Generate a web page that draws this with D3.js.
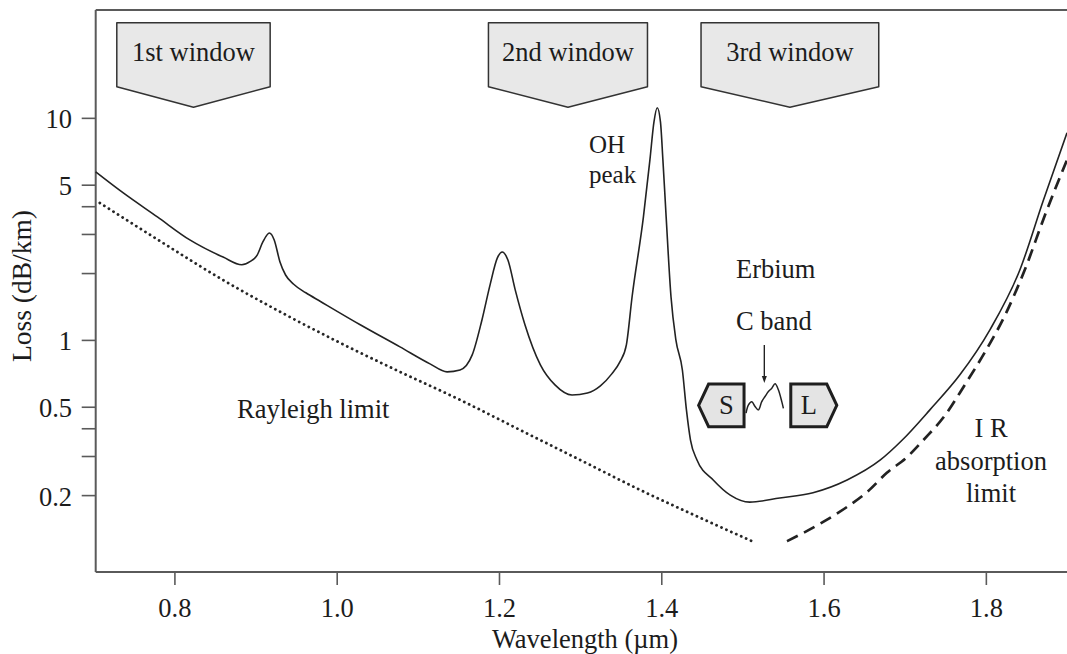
<!DOCTYPE html>
<html>
<head>
<meta charset="utf-8">
<script src="https://cdn.jsdelivr.net/npm/d3@7"></script>
<style>
  body { margin: 0; background: #fff; }
  svg { display: block; }
  text { font-family: "Liberation Serif", "Times New Roman", serif; fill: #1c1c1c; }
</style>
</head>
<body>
<svg id="chart" width="1067" height="654"></svg>
<script>
// Total fibre loss (dB/km) against wavelength (µm)
const lossWavelength = [0.703, 0.737, 0.779, 0.819, 0.860, 0.883, 0.893, 0.902, 0.909, 0.917, 0.923, 0.930, 0.937,
  0.947, 0.962, 0.980, 1.029, 1.078, 1.115, 1.136, 1.152, 1.167, 1.179, 1.189, 1.198, 1.204, 1.211, 1.220, 1.232,
  1.251, 1.269, 1.290, 1.309, 1.325, 1.339, 1.349, 1.357, 1.364, 1.378, 1.386, 1.391, 1.395, 1.399, 1.402,
  1.406, 1.412, 1.418, 1.426, 1.431, 1.436, 1.444, 1.464, 1.485, 1.509, 1.546, 1.587, 1.629, 1.670, 1.697,
  1.731, 1.768, 1.805, 1.842, 1.871, 1.900];
const lossValue = [5.71, 4.59, 3.58, 2.82, 2.36, 2.18, 2.25, 2.41, 2.76, 3.03, 2.82, 2.25, 1.96,
  1.78, 1.63, 1.49, 1.17, 0.930, 0.780, 0.718, 0.732, 0.856, 1.23, 1.77, 2.34, 2.49, 2.29, 1.68, 1.17,
  0.772, 0.627, 0.565, 0.577, 0.621, 0.703, 0.796, 0.950, 1.56, 3.58, 6.47, 9.59, 11.1, 9.59, 6.47,
  3.58, 1.56, 1.00, 0.732, 0.484, 0.354, 0.288, 0.234, 0.200, 0.186, 0.194, 0.205, 0.234, 0.288, 0.354,
  0.484, 0.696, 1.11, 2.07, 4.27, 8.56];

// Rayleigh scattering limit
const rayleighWavelength = [0.708, 0.782, 0.860, 0.930, 1.002, 1.078, 1.152, 1.226, 1.300, 1.374, 1.448, 1.512];
const rayleighValue = [4.14, 2.79, 1.86, 1.34, 0.979, 0.718, 0.537, 0.393, 0.288, 0.211, 0.158, 0.124];

// Infrared absorption limit
const irWavelength = [1.555, 1.599, 1.629, 1.654, 1.678, 1.703, 1.723, 1.750, 1.774, 1.799, 1.824, 1.848, 1.873, 1.900];
const irValue = [0.124, 0.151, 0.177, 0.207, 0.252, 0.297, 0.354, 0.459, 0.627, 0.883, 1.30, 2.07, 3.66, 6.47];

// Erbium C-band gain sketch
const erbiumWavelength = [1.5045, 1.5073, 1.5115, 1.5156, 1.5197, 1.5238, 1.5279, 1.5320, 1.5362, 1.5402, 1.5444, 1.5485, 1.5505];
const erbiumValue = [0.468, 0.509, 0.527, 0.501, 0.484, 0.527, 0.556, 0.585, 0.606, 0.634, 0.595, 0.527, 0.492];

const xTicks = [0.8, 1.0, 1.2, 1.4, 1.6, 1.8];
const yTicks = [10, 5, 4, 3, 2, 1, 0.5, 0.4, 0.3, 0.2];
const yTickLabels = { 10: "10", 5: "5", 1: "1", 0.5: "0.5", 0.2: "0.2" };

const windowNames = ["1st window", "2nd window", "3rd window"];
const windowStart = [0.729, 1.187, 1.449];
const windowEnd = [0.918, 1.383, 1.668];

const bandNames = ["S", "L"];
const bandStart = [1.446, 1.5596];
const bandEnd = [1.502, 1.6163];

// ---------------------------------------------------------------
const svg = d3.select("#chart");
const plotLeft = 95.7, plotRight = 1067, plotTop = 10, plotBottom = 572;
const fs = 26.5;
const axisColor = "#5a5a5a";

const x = d3.scaleLinear().domain([0.703, 1.9]).range([plotLeft, plotRight]);
const y = d3.scaleLog().domain([0.0901, 30.6]).range([plotBottom, plotTop]);

// frame
svg.append("line").attr("x1", plotLeft).attr("x2", plotRight).attr("y1", plotTop).attr("y2", plotTop)
  .attr("stroke", axisColor).attr("stroke-width", 2);

// x axis
const gx = svg.append("g").attr("transform", `translate(0,${plotBottom})`)
  .call(d3.axisBottom(x).tickValues(xTicks).tickFormat(d3.format(".1f")).tickSize(13).tickSizeOuter(0).tickPadding(13.5));
gx.select(".domain").attr("stroke", axisColor).attr("stroke-width", 2).attr("d", `M${plotLeft},0H${plotRight}`);
gx.selectAll(".tick line").attr("stroke", axisColor).attr("stroke-width", 1.6);
gx.selectAll(".tick text").attr("font-size", fs).attr("font-family", "Liberation Serif").attr("fill", "#1c1c1c");

// y axis
const gy = svg.append("g").attr("transform", `translate(${plotLeft},0)`)
  .call(d3.axisLeft(y).tickValues(yTicks).tickFormat(d => yTickLabels[d] || "").tickSize(14).tickSizeOuter(0).tickPadding(9.7));
gy.select(".domain").attr("stroke", axisColor).attr("stroke-width", 2).attr("d", `M0,${plotTop}V${plotBottom}`);
gy.selectAll(".tick line").attr("stroke", axisColor).attr("stroke-width", 1.6);
gy.selectAll(".tick text").attr("font-size", fs).attr("dy", "0.38em").attr("font-family", "Liberation Serif").attr("fill", "#1c1c1c");

// axis titles
svg.append("text").attr("x", 585).attr("y", 648).attr("text-anchor", "middle").attr("font-size", fs)
  .text("Wavelength (µm)");
svg.append("text").attr("transform", "translate(31,286) rotate(-90)").attr("text-anchor", "middle")
  .attr("font-size", 27.5).text("Loss (dB/km)");

// curves
const line = d3.line().x(d => x(d[0])).y(d => y(d[1]));
const zip = (a, b) => a.map((v, i) => [v, b[i]]);

svg.append("path").datum(zip(rayleighWavelength, rayleighValue))
  .attr("d", line.curve(d3.curveMonotoneX)).attr("fill", "none")
  .attr("stroke", "#262626").attr("stroke-width", 2.8).attr("stroke-linecap", "round")
  .attr("stroke-dasharray", "0.1,5.3");

svg.append("path").datum(zip(irWavelength, irValue))
  .attr("d", line.curve(d3.curveMonotoneX)).attr("fill", "none")
  .attr("stroke", "#222").attr("stroke-width", 2.7).attr("stroke-dasharray", "12,7");

svg.append("path").datum(zip(lossWavelength, lossValue))
  .attr("d", line.curve(d3.curveMonotoneX)).attr("fill", "none")
  .attr("stroke", "#222").attr("stroke-width", 1.6);

// low-loss windows
const winTop = 22.7, winSide = 86.7, winTip = 107.3;
windowNames.forEach((name, i) => {
  const x0 = x(windowStart[i]), x1 = x(windowEnd[i]), xm = (x0 + x1) / 2;
  svg.append("path")
    .attr("d", `M${x0},${winTop}H${x1}V${winSide}L${xm},${winTip}L${x0},${winSide}Z`)
    .attr("fill", "#e8e8e8").attr("stroke", "#333").attr("stroke-width", 1.5).attr("stroke-linejoin", "round");
  svg.append("text").attr("x", xm).attr("y", 61).attr("text-anchor", "middle").attr("font-size", fs).text(name);
});

// S and L amplifier bands
const bandTop = 384, bandBottom = 426.7, bandMid = 405.3, inset = 10;
bandNames.forEach((name, i) => {
  const x0 = x(bandStart[i]), x1 = x(bandEnd[i]);
  const d = i === 0
    ? `M${x0},${bandMid}L${x0 + inset},${bandTop}H${x1}V${bandBottom}H${x0 + inset}Z`
    : `M${x0},${bandTop}H${x1 - inset}L${x1},${bandMid}L${x1 - inset},${bandBottom}H${x0}Z`;
  svg.append("path").attr("d", d).attr("fill", "#e4e4e4").attr("stroke", "#1e1e1e")
    .attr("stroke-width", 3).attr("stroke-linejoin", "miter");
  const cx = i === 0 ? (x0 + inset + x1) / 2 : (x0 + x1 - inset) / 2;
  svg.append("text").attr("x", cx).attr("y", 413.5).attr("text-anchor", "middle").attr("font-size", fs).text(name);
});

// erbium gain sketch and pointer
svg.append("path").datum(zip(erbiumWavelength, erbiumValue))
  .attr("d", line.curve(d3.curveCatmullRom)).attr("fill", "none")
  .attr("stroke", "#222").attr("stroke-width", 1.5);

const ax = x(1.527);
svg.append("line").attr("x1", ax).attr("x2", ax).attr("y1", 345).attr("y2", 377)
  .attr("stroke", "#222").attr("stroke-width", 1.4);
svg.append("path").attr("d", `M${ax - 2.5},376L${ax + 2.5},376L${ax},383Z`).attr("fill", "#222");

// annotations (multi-line ones are a single text block)
const note = (tx, ty, lines, anchor = "start", lead = 26, size = fs) => {
  const t = svg.append("text").attr("x", tx).attr("y", ty).attr("text-anchor", anchor).attr("font-size", size);
  [].concat(lines).forEach((s, i) => t.append("tspan").attr("x", tx).attr("y", ty + i * lead).text(s));
};
note(589, 153, ["OH", "peak"], "start", 29.5, 25);
note(736, 278, "Erbium");
note(736, 330, "C band");
note(237, 418, "Rayleigh limit");
note(991, 437, ["I R", "absorption", "limit"], "middle", 32.5);
</script>
</body>
</html>
